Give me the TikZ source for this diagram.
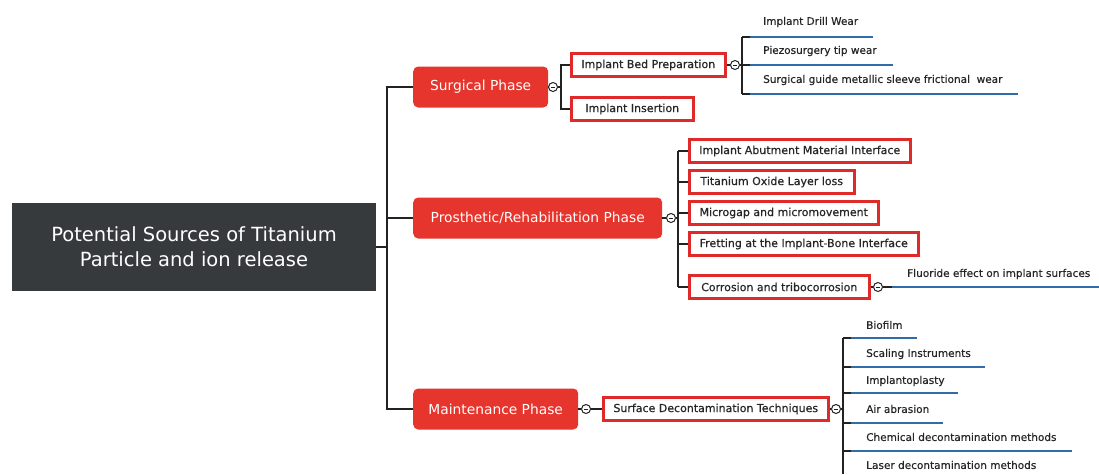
\documentclass[tikz,border=0pt]{standalone}
\usepackage{fontspec}
\setmainfont{DejaVu Sans}
\newfontfamily\medfont{DejaVu Sans}[FakeBold=0.5]
\definecolor{rootc}{HTML}{363A3C}
\definecolor{redc}{HTML}{E5352D}
\definecolor{bordc}{HTML}{E02A2A}
\definecolor{linec}{HTML}{222222}
\definecolor{bluec}{HTML}{2F6CA8}
\begin{document}
\begin{tikzpicture}[x=1pt,y=-1pt,
  rootbox/.style={fill=rootc,text=white,minimum width=364pt,minimum height=88pt,inner sep=0pt,align=center,font=\fontsize{19.5}{25}\selectfont},
  phasebox/.style={fill=redc,text=white,rounded corners=5pt,minimum height=41pt,inner sep=0pt,anchor=west,font=\fontsize{13.8}{16}\selectfont},
  subbox/.style={draw=bordc,line width=2.5pt,fill=white,minimum height=23pt,inner sep=0pt,anchor=west,text=black!85,font=\medfont\fontsize{11}{13}\selectfont},
  leaftext/.style={anchor=west,inner sep=0pt,text=black!85,font=\medfont\fontsize{10.5}{12}\selectfont},
  conn/.style={draw=linec,line width=1.3pt},
  uline/.style={draw=bluec,line width=1.5pt},
  tog/.style={circle,draw=linec,fill=white,line width=1pt,minimum size=9pt,inner sep=0pt}
]
\useasboundingbox (0,0) rectangle (1099,474);
% root
\node[rootbox] (root) at (194,247) {Potential Sources of Titanium\\Particle and ion release};
% phases
\node[phasebox,minimum width=135pt] (surg) at (413,87) {Surgical Phase};
\node[phasebox,minimum width=249pt] (prost) at (413,218) {Prosthetic/Rehabilitation Phase};
\node[phasebox,minimum width=165pt] (maint) at (413,409) {Maintenance Phase};
\coordinate (trunk) at (387,247);
\draw[conn] (root.east) -- (trunk);
\draw[conn] (trunk) |- (surg.west);
\draw[conn] (trunk) |- (prost.west);
\draw[conn] (trunk) |- (maint.west);
% toggles
\node[tog] (t1) at (553,87) {};
\node[tog] (t2) at (671,218) {};
\node[tog] (t3) at (586,409) {};
% surgical children
\node[subbox,minimum width=154pt] (bed) at (570,65) {Implant Bed Preparation};
\node[subbox,minimum width=122pt] (ins) at (570,109) {Implant Insertion};
\coordinate (s1) at (561,87);
\draw[conn] (surg.east) -- (t1.west);
\draw[conn] (t1.east) -- (s1);
\draw[conn] (s1) |- (bed.west);
\draw[conn] (s1) |- (ins.west);
\node[tog] (t4) at (735,65) {};
\draw[conn] (bed.east) -- (t4.west);
\coordinate (s2) at (742,65);
\draw[conn] (t4.east) -- (s2);
\coordinate (a1) at (742,37); \coordinate (a1e) at (750,37); \coordinate (a1f) at (873,37);
\coordinate (a2) at (742,65); \coordinate (a2e) at (750,65); \coordinate (a2f) at (893,65);
\coordinate (a3) at (742,94); \coordinate (a3e) at (750,94); \coordinate (a3f) at (1018,94);
\draw[conn] (a1) -- (a3);
\draw[conn] (a1) -- (a1e); \draw[conn] (a2) -- (a2e); \draw[conn] (a3) -- (a3e);
\draw[uline] (a1e) -- (a1f); \draw[uline] (a2e) -- (a2f); \draw[uline] (a3e) -- (a3f);
\node[leaftext] (l1) at (763,22) {Implant Drill Wear};
\node[leaftext] (l2) at (763,51) {Piezosurgery tip wear};
\node[leaftext] (l3) at (763,80) {Surgical guide metallic sleeve frictional\ \ wear};
% prosthetic children
\draw[conn] (prost.east) -- (t2.west);
\coordinate (p0) at (678,218);
\draw[conn] (t2.east) -- (p0);
\node[subbox,minimum width=221pt] (pa) at (688,151) {Implant Abutment Material Interface};
\node[subbox,minimum width=165pt] (pb) at (688,182) {Titanium Oxide Layer loss};
\node[subbox,minimum width=189pt] (pc) at (688,213) {Microgap and micromovement};
\node[subbox,minimum width=229pt] (pd) at (688,244) {Fretting at the Implant-Bone Interface};
\node[subbox,minimum width=180pt] (pe) at (688,287) {Corrosion and tribocorrosion};
\coordinate (ptop) at (678,151); \coordinate (pbot) at (678,287);
\draw[conn] (ptop) -- (pbot);
\foreach \n in {pa,pb,pc,pd,pe} \draw[conn] (ptop |- \n.west) -- (\n.west);
\node[tog] (t5) at (878,287) {};
\draw[conn] (pe.east) -- (t5.west);
\coordinate (f0) at (892,287); \coordinate (f1) at (1099,287);
\draw[conn] (t5.east) -- (f0);
\draw[uline] (f0) -- (f1);
\node[leaftext] (lf) at (907,274) {Fluoride effect on implant surfaces};
% maintenance children
\draw[conn] (maint.east) -- (t3.west);
\node[subbox,minimum width=225pt] (sd) at (602,409) {Surface Decontamination Techniques};
\draw[conn] (t3.east) -- (sd.west);
\node[tog] (t6) at (836,409) {};
\draw[conn] (sd.east) -- (t6.west);
\coordinate (m0) at (843,409);
\draw[conn] (t6.east) -- (m0);
\coordinate (mtop) at (843,338); \coordinate (mbot) at (843,474);
\draw[conn] (mtop) -- (mbot);
\foreach \y/\e in {338/917,367/985,393/958,423/943,451/1072}{
  \draw[conn] (843,\y) -- (851,\y);
  \draw[uline] (851,\y) -- (\e,\y);
}
\node[leaftext] (b1) at (866,325) {Biofilm};
\node[leaftext] (b2) at (866,354) {Scaling Instruments};
\node[leaftext] (b3) at (866,381) {Implantoplasty};
\node[leaftext] (b4) at (866,409) {Air abrasion};
\node[leaftext] (b5) at (866,437) {Chemical decontamination methods};
\node[leaftext] (b6) at (866,465) {Laser decontamination methods};
% toggle minus marks
\foreach \t in {t1,t2,t3,t4,t5,t6} \draw[linec,line width=0.6pt] ([xshift=-2pt]\t.center) -- ([xshift=2pt]\t.center);
\end{tikzpicture}
\end{document}
